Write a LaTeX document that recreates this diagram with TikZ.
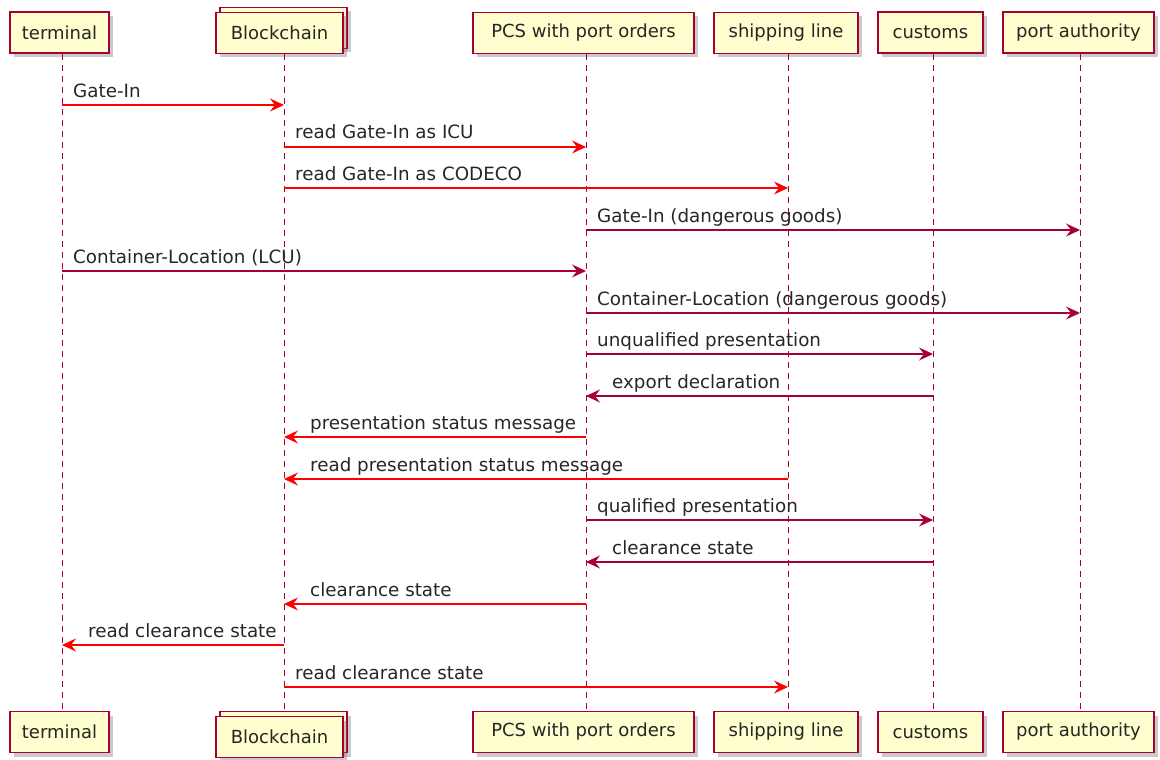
\documentclass[tikz,border=0pt]{standalone}
\usepackage{fontspec}
\setmainfont{DejaVu Sans}
\usetikzlibrary{arrows.meta,shadows}
\definecolor{pbord}{HTML}{A80036}
\definecolor{pfill}{HTML}{FEFECE}
\tikzset{
  part/.style={draw=pbord, line width=1.2pt, fill=pfill, inner sep=0pt,
    minimum height=41pt, font=\fontsize{18pt}{20pt}\selectfont, text=black!85,
    drop shadow={shadow xshift=4pt, shadow yshift=-4pt, opacity=0.35, fill=black!60}},
  life/.style={draw=pbord, line width=1pt, dash pattern=on 6pt off 5pt},
  redmsg/.style={draw=red, line width=1.1pt, -{Stealth[length=14pt,width=13pt,inset=5pt]}},
  crmsg/.style={draw=pbord, line width=1.1pt, -{Stealth[length=14pt,width=13pt,inset=5pt]}},
  lbl/.style={font=\fontsize{18.3pt}{20pt}\selectfont, text=black!85, inner sep=0pt, anchor=base west},
}
\begin{document}
\begin{tikzpicture}[x=1pt,y=-1pt]
\useasboundingbox (0,0) rectangle (1160,760);
% top participants
\node[part, minimum width=99pt] (tTop) at (59.5,32.5) {terminal};
\node[part, minimum width=127pt] (bTopBack) at (283.5,28) {};
\node[part, minimum width=127pt] (bTop) at (279.5,33) {Blockchain};
\node[part, minimum width=221pt] (pTop) at (583.5,33) {PCS with port orders};
\node[part, minimum width=144pt] (sTop) at (786,33) {shipping line};
\node[part, minimum width=105pt] (cTop) at (930.5,32.5) {customs};
\node[part, minimum width=151pt] (aTop) at (1078.5,32.5) {port authority};
% bottom participants
\node[part, minimum width=99pt] (tBot) at (59.5,732) {terminal};
\node[part, minimum width=127pt] (bBotBack) at (283.5,732) {};
\node[part, minimum width=127pt] (bBot) at (279.5,737) {Blockchain};
\node[part, minimum width=221pt] (pBot) at (583.5,732) {PCS with port orders};
\node[part, minimum width=144pt] (sBot) at (786,732) {shipping line};
\node[part, minimum width=105pt] (cBot) at (930.5,732) {customs};
\node[part, minimum width=151pt] (aBot) at (1078.5,732) {port authority};
% lifeline coordinates
\coordinate (T1) at (62,54); \coordinate (T2) at (62,711);
\coordinate (B1) at (284,54); \coordinate (B2) at (284,711);
\coordinate (P1) at (586,54); \coordinate (P2) at (586,711);
\coordinate (S1) at (788,54); \coordinate (S2) at (788,711);
\coordinate (C1) at (933,54); \coordinate (C2) at (933,711);
\coordinate (A1) at (1080,54); \coordinate (A2) at (1080,711);
\foreach \l in {T,B,P,S,C,A} { \draw[life] (\l1) -- (\l2); }
% message rows
\foreach \i/\y in {1/105,2/147,3/188,4/230,5/271,6/313,7/354,8/396,9/437,10/479,11/520,12/562,13/604,14/645,15/687} {
  \coordinate (r\i) at (0,\y);
}
% messages
\draw[redmsg] (T1 |- r1) -- (B1 |- r1);
\node[lbl] (m1) at ([shift={(11,-8)}]T1 |- r1) {Gate-In};
\draw[redmsg] (B1 |- r2) -- (P1 |- r2);
\node[lbl] (m2) at ([shift={(11,-8)}]B1 |- r2) {read Gate-In as ICU};
\draw[redmsg] (B1 |- r3) -- (S1 |- r3);
\node[lbl] (m3) at ([shift={(11,-8)}]B1 |- r3) {read Gate-In as CODECO};
\draw[crmsg] (P1 |- r4) -- (A1 |- r4);
\node[lbl] (m4) at ([shift={(11,-8)}]P1 |- r4) {Gate-In (dangerous goods)};
\draw[crmsg] (T1 |- r5) -- (P1 |- r5);
\node[lbl] (m5) at ([shift={(11,-8)}]T1 |- r5) {Container-Location (LCU)};
\draw[crmsg] (P1 |- r6) -- (A1 |- r6);
\node[lbl] (m6) at ([shift={(11,-8)}]P1 |- r6) {Container-Location (dangerous goods)};
\draw[crmsg] (P1 |- r7) -- (C1 |- r7);
\node[lbl] (m7) at ([shift={(11,-8)}]P1 |- r7) {unqualified presentation};
\draw[crmsg] (C1 |- r8) -- (P1 |- r8);
\node[lbl] (m8) at ([shift={(26,-8)}]P1 |- r8) {export declaration};
\draw[redmsg] (P1 |- r9) -- (B1 |- r9);
\node[lbl] (m9) at ([shift={(26,-8)}]B1 |- r9) {presentation status message};
\draw[redmsg] (S1 |- r10) -- (B1 |- r10);
\node[lbl] (m10) at ([shift={(26,-8)}]B1 |- r10) {read presentation status message};
\draw[crmsg] (P1 |- r11) -- (C1 |- r11);
\node[lbl] (m11) at ([shift={(11,-8)}]P1 |- r11) {qualified presentation};
\draw[crmsg] (C1 |- r12) -- (P1 |- r12);
\node[lbl] (m12) at ([shift={(26,-8)}]P1 |- r12) {clearance state};
\draw[redmsg] (P1 |- r13) -- (B1 |- r13);
\node[lbl] (m13) at ([shift={(26,-8)}]B1 |- r13) {clearance state};
\draw[redmsg] (B1 |- r14) -- (T1 |- r14);
\node[lbl] (m14) at ([shift={(26,-8)}]T1 |- r14) {read clearance state};
\draw[redmsg] (B1 |- r15) -- (S1 |- r15);
\node[lbl] (m15) at ([shift={(11,-8)}]B1 |- r15) {read clearance state};
\end{tikzpicture}
\end{document}
